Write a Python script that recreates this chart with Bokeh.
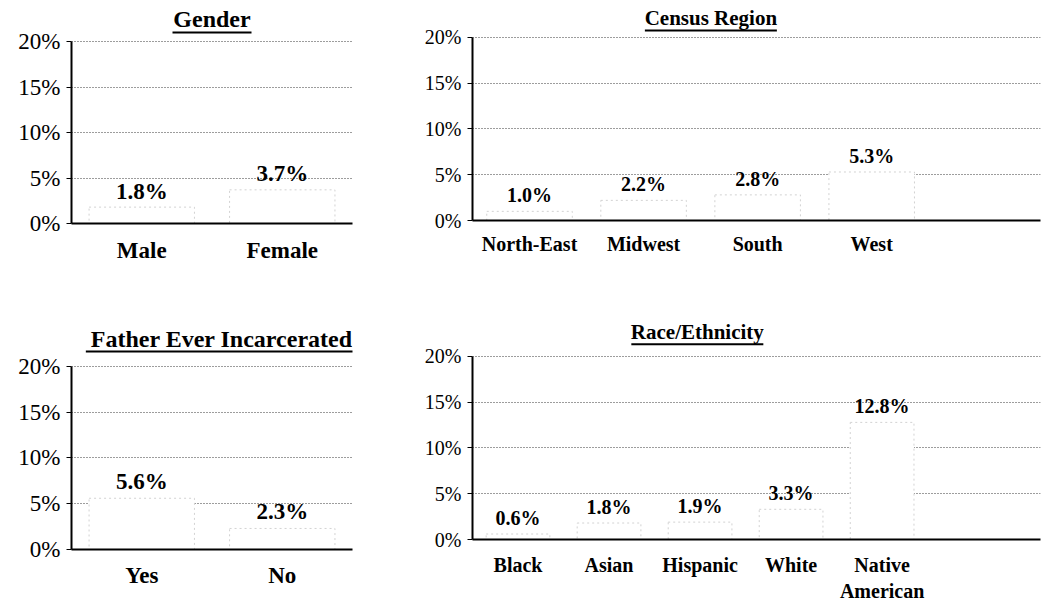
from bokeh.plotting import figure
from bokeh.layouts import column, row
from bokeh.models import ColumnDataSource, FixedTicker, PrintfTickFormatter, Range1d
from bokeh.core.properties import value
from bokeh.embed import file_html
from bokeh.resources import INLINE

# ---------------- data ----------------
gender_title = "Gender"
gender_cats = ["Male", "Female"]
gender_vals = [1.8, 3.7]

region_title = "Census Region"
region_cats = ["North-East", "Midwest", "South", "West"]
region_vals = [1.0, 2.2, 2.8, 5.3]

father_title = "Father Ever Incarcerated"
father_cats = ["Yes", "No"]
father_vals = [5.6, 2.3]

race_title = "Race/Ethnicity"
race_cats = ["Black", "Asian", "Hispanic", "White", "Native\nAmerican"]
race_vals = [0.6, 1.8, 1.9, 3.3, 12.8]

y_ticks = [0, 5, 10, 15, 20]

FONT = "'Liberation Serif', 'Times New Roman', Times, serif"


def panel(title, cats, vals, width, height, mb, x_end, y_end, fs_title, fs_text,
          title_x, title_y, ul_y, title_px, bar_w, val_gap, standoff):
    mb_left, mb_right, mb_top, mb_bottom = mb
    p = figure(width=width, height=height,
               x_range=Range1d(0, x_end), y_range=Range1d(0, y_end),
               output_backend="svg", toolbar_location=None,
               min_border_left=mb_left, min_border_right=mb_right,
               min_border_top=mb_top, min_border_bottom=mb_bottom)
    p.outline_line_color = None
    p.background_fill_color = "white"
    p.border_fill_color = "white"

    xs = [i + 0.5 for i in range(len(cats))]
    src = ColumnDataSource(dict(x=xs, top=vals, label=[f"{v:.1f}%" for v in vals]))

    # grid
    p.xgrid.visible = False
    p.ygrid.ticker = FixedTicker(ticks=y_ticks)
    p.ygrid.grid_line_color = "#3a3a3a"
    p.ygrid.grid_line_dash = "1 2"
    p.ygrid.grid_line_width = 1

    # bars (white, faint dotted outline)
    p.vbar(x="x", top="top", bottom=0, width=bar_w, source=src,
           fill_color="white", line_color="#d2d2d2", line_dash="2 3", line_width=1)

    # value labels
    p.text(x="x", y="top", text="label", source=src,
           text_font=value(FONT), text_font_style="bold",
           text_font_size=f"{fs_text}px", text_color="black",
           text_align="center", text_baseline="alphabetic",
           y_offset=-(val_gap + round(0.36 * fs_text)))

    # underlined title
    frame_w = width - mb_left - mb_right
    half = title_px / 2 * x_end / frame_w
    p.text(x=[title_x], y=[title_y], text=[title],
           text_font=value(FONT), text_font_style="bold",
           text_font_size=f"{fs_title}px", text_color="black",
           text_align="center", text_baseline="alphabetic",
           y_offset=-round(0.36 * fs_title))
    p.segment(x0=[title_x - half], x1=[title_x + half], y0=[ul_y], y1=[ul_y],
              line_color="black", line_width=2)

    # x axis
    xa = p.xaxis[0]
    xa.ticker = FixedTicker(ticks=xs)
    xa.major_label_overrides = {x: c for x, c in zip(xs, cats)}
    xa.major_tick_line_color = None
    xa.minor_tick_line_color = None
    xa.axis_line_color = "black"
    xa.axis_line_width = 2
    xa.major_label_standoff = standoff
    xa.major_label_text_font = FONT
    xa.major_label_text_font_style = "bold"
    xa.major_label_text_font_size = f"{fs_text}px"
    xa.major_label_text_color = "black"

    # y axis
    ya = p.yaxis[0]
    ya.ticker = FixedTicker(ticks=y_ticks)
    ya.bounds = (0, 20)
    ya.formatter = PrintfTickFormatter(format="%d%%")
    ya.axis_line_color = "black"
    ya.axis_line_width = 2
    ya.major_tick_line_color = "black"
    ya.major_tick_out = 5
    ya.major_tick_in = 0
    ya.minor_tick_line_color = None
    ya.major_label_standoff = 6
    ya.major_label_text_font = FONT
    ya.major_label_text_font_style = "normal"
    ya.major_label_text_font_size = f"{fs_text}px"
    ya.major_label_text_color = "black"
    return p


# left column
p1 = panel(gender_title, gender_cats, gender_vals, 400, 290, (71, 48, 0, 67),
           2.0, 24.51, 24, 23, 1.0, 21.54, 20.99, 79, 0.75, 8, 8)
p3 = panel(father_title, father_cats, father_vals, 400, 314, (71, 48, 25, 55),
           2.0, 25.57, 24, 23, 1.07, 22.0, 21.64, 272, 0.75, 9, 7)
# right column
p2 = panel(region_title, region_cats, region_vals, 642, 290, (72, 2, 0, 70),
           4.98, 24.04, 21, 20, 2.09, 21.2, 20.77, 132, 0.75, 9, 6)
p4 = panel(race_title, race_cats, race_vals, 642, 314, (72, 2, 25, 65),
           6.24, 24.48, 21, 20, 2.47, 21.78, 21.34, 132, 0.7, 9, 8)

layout = row(column(p1, p3), column(p2, p4))

open("out.html", "w").write(file_html(layout, INLINE))
